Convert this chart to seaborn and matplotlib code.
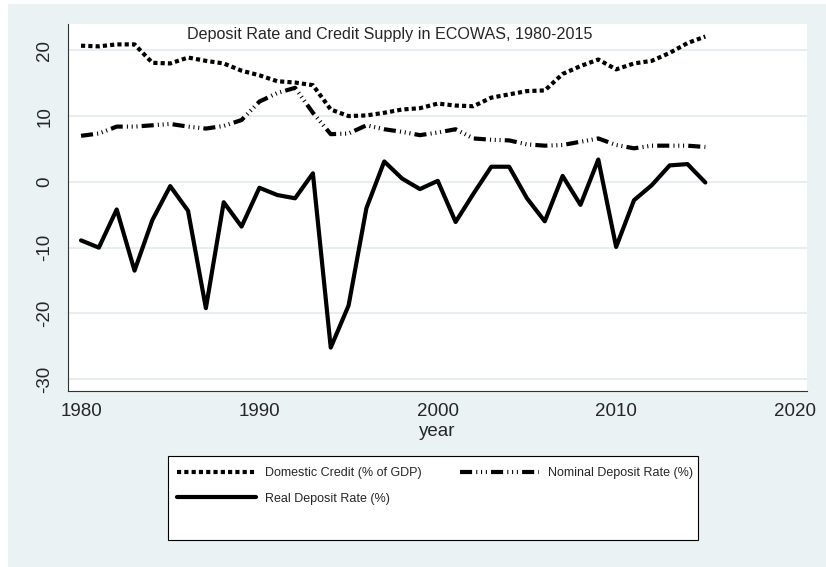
import numpy as np
import pandas as pd
import seaborn as sns
import matplotlib.pyplot as plt
from matplotlib.patches import Rectangle

# Datos (ECOWAS, 1980-2015)
years = list(range(1980, 2016))

domestic_credit = [20.7, 20.6, 20.9, 20.9, 18.1, 18.0, 18.9, 18.4, 18.0, 16.9,
                   16.2, 15.3, 15.1, 14.7, 11.0, 10.0, 10.1, 10.5, 11.0, 11.2,
                   11.9, 11.6, 11.5, 12.8, 13.3, 13.8, 13.9, 16.4, 17.6, 18.6,
                   17.1, 18.0, 18.4, 19.6, 21.1, 22.1]

nominal_rate = [7.0, 7.35, 8.4, 8.4, 8.6, 8.8, 8.4, 8.1, 8.5, 9.4,
                12.2, 13.5, 14.3, 10.5, 7.25, 7.35, 8.6, 8.0, 7.6, 7.1,
                7.5, 8.0, 6.6, 6.4, 6.3, 5.7, 5.5, 5.6, 6.1, 6.6,
                5.6, 5.1, 5.5, 5.5, 5.5, 5.3]

real_rate = [-8.9, -10.0, -4.2, -13.5, -5.8, -0.65, -4.4, -19.2, -3.1, -6.8,
             -0.9, -2.0, -2.5, 1.3, -25.2, -18.8, -4.0, 3.1, 0.5, -1.1,
             0.15, -6.1, -1.8, 2.3, 2.3, -2.5, -6.0, 0.9, -3.5, 3.4,
             -9.9, -2.8, -0.5, 2.5, 2.7, -0.1]

labels = ["Domestic Credit (% of GDP)", "Nominal Deposit Rate (%)", "Real Deposit Rate (%)"]
xticks = [1980, 1990, 2000, 2010, 2020]
yticks = [-30, -20, -10, 0, 10, 20]

df = pd.DataFrame({"year": years, "credit": domestic_credit,
                   "nominal": nominal_rate, "real": real_rate})

sns.set_style("white")
plt.rcParams['font.family'] = ['Liberation Sans', 'DejaVu Sans']

bg = "#EAF2F3"
fig = plt.figure(figsize=(8.26, 5.67), dpi=100, facecolor="white")
fig.patches.append(Rectangle((8 / 826, 0), 1, 1 - 4 / 567, transform=fig.transFigure,
                             facecolor=bg, edgecolor="none", zorder=-10))
ax = fig.add_axes([68 / 826, 1 - 391 / 567, (807 - 68) / 826, (391 - 24) / 567])
ax.set_facecolor("white")

sns.lineplot(data=df, x="year", y="credit", ax=ax, color="black", lw=3,
             linestyle=(0, (1, 0.75)), label=labels[0])
sns.lineplot(data=df, x="year", y="nominal", ax=ax, color="black", lw=3,
             linestyle=(0, (2.9, 1.0, 0.25, 0.9, 0.25, 0.9, 0.25, 1.0)), label=labels[1])
sns.lineplot(data=df, x="year", y="real", ax=ax, color="black", lw=3,
             linestyle="-", label=labels[2])

ax.set_xlim(1979.27, 2020.7)
ax.set_ylim(-31.8, 24.0)
ax.set_xticks(xticks)
ax.set_yticks(yticks)
ax.set_yticklabels([str(v) for v in yticks], rotation=90, va="center")
ax.tick_params(axis="both", labelsize=13.5, length=5.5, width=0.8, color="#333333",
               direction="out")
ax.tick_params(axis="y", pad=5)
ax.set_xlabel("year", fontsize=13.5, labelpad=2)
ax.set_ylabel("")
ax.grid(axis="y", color="#E2EBED", lw=1.2)
ax.grid(axis="x", visible=False)
for side in ["top", "right"]:
    ax.spines[side].set_visible(False)
for side in ["left", "bottom"]:
    ax.spines[side].set_color("#333333")
    ax.spines[side].set_linewidth(0.8)

fig.text(390 / 826, 1 - 34 / 567, "Deposit Rate and Credit Supply in ECOWAS, 1980-2015",
         ha="center", va="center", fontsize=11.6)

# leyenda: Stata pone 2 columnas
handles, labs = ax.get_legend_handles_labels()
ax.get_legend().remove()
order = [0, 2, 1]
fig.patches.append(Rectangle((168 / 826, 1 - 540 / 567), 530 / 826, 84 / 567,
                             transform=fig.transFigure, facecolor="white",
                             edgecolor="black", lw=0.8, zorder=1))
leg = fig.legend([handles[i] for i in order], [labs[i] for i in order], ncol=2,
                 loc="upper left", bbox_to_anchor=(177 / 826, 1 - 467 / 567),
                 frameon=False, fontsize=9.0, handlelength=6.3, handletextpad=0.72,
                 columnspacing=3.1, labelspacing=1.1, borderpad=0, borderaxespad=0)
leg.set_zorder(2)

fig.savefig("out.png", dpi=100, facecolor="white")
